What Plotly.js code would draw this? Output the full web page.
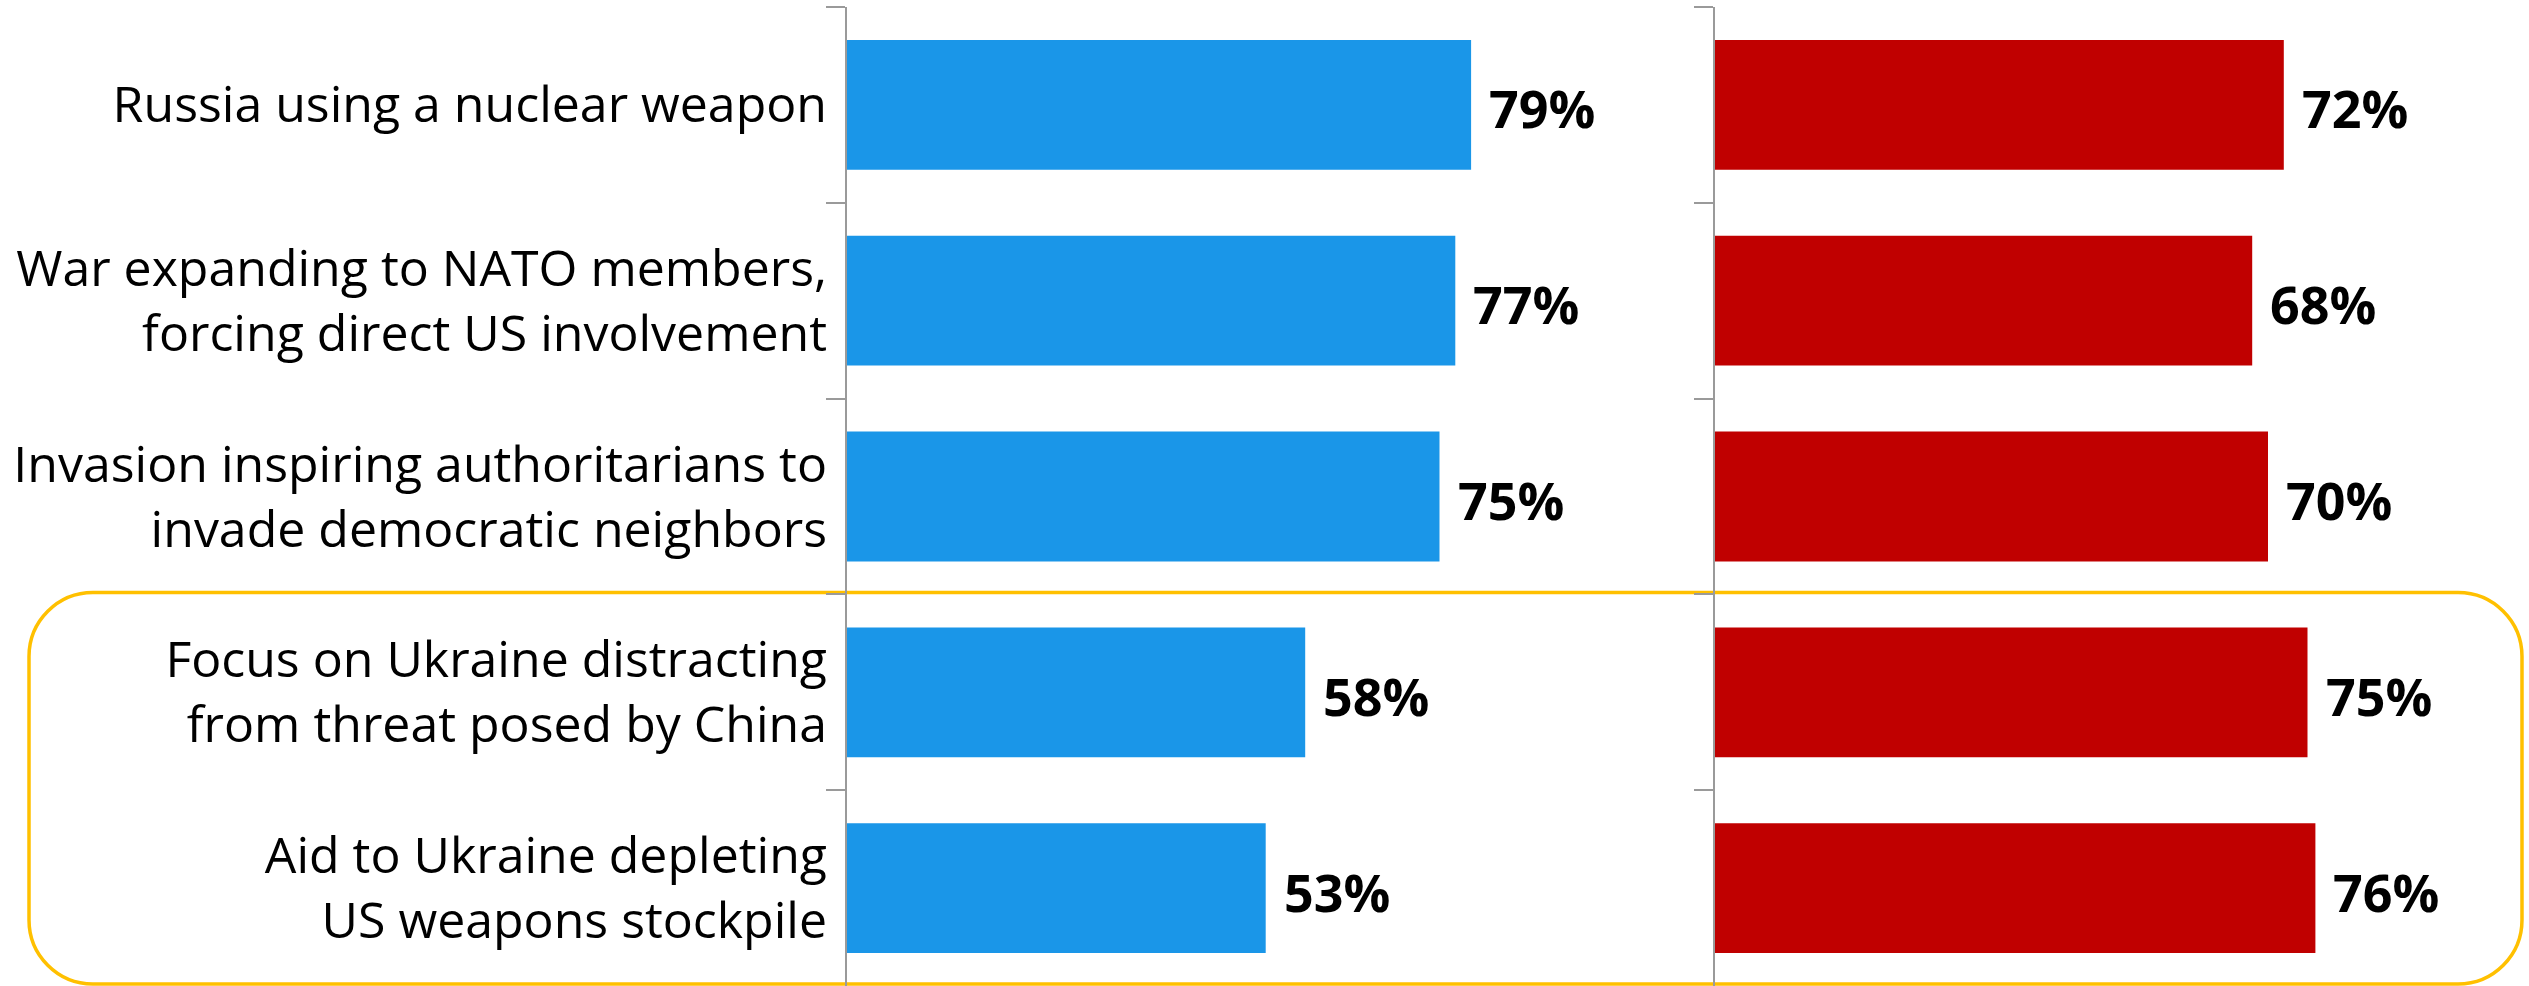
<!DOCTYPE html>
<html>
<head>
<meta charset="utf-8">
<script src="https://cdn.plot.ly/plotly-3.0.1.min.js"></script>
<style>
  html, body { margin: 0; padding: 0; background: #ffffff; }
  #chart { width: 2529px; height: 986px; }
</style>
</head>
<body>
<div id="chart"></div>
<script>
// ---- Data ----
const categories = [
  "Russia using a nuclear weapon",
  "War expanding to NATO members,<br>forcing direct US involvement",
  "Invasion inspiring authoritarians to<br>invade democratic neighbors",
  "Focus on Ukraine distracting<br>from threat posed by China",
  "Aid to Ukraine depleting<br>US weapons stockpile"
];
const leftValues = [79, 77, 75, 58, 53];
const rightValues = [72, 68, 70, 75, 76];
const highlightedCategories = [3, 4]; // indices of the highlighted rows

// ---- Layout geometry ----
const W = 2529, H = 986;
const M = { l: 0, r: 0, t: 7, b: 0 };
const plotW = W - M.l - M.r, plotH = H - M.t - M.b;
const leftDomain = [847 / W, 1637 / W];
const rightDomain = [1715 / W, 2505 / W];

const BLUE = "#1A96E8";
const RED = "#C00000";
const AXIS_GRAY = "#9A9A9A";
const FONT = "Open Sans, Noto Sans, DejaVu Sans, sans-serif";

const traces = [
  {
    type: "bar", orientation: "h",
    x: leftValues, y: categories,
    xaxis: "x", yaxis: "y",
    marker: { color: BLUE, line: { width: 0 } },
    hoverinfo: "skip", showlegend: false
  },
  {
    type: "bar", orientation: "h",
    x: rightValues, y: categories,
    xaxis: "x2", yaxis: "y2",
    marker: { color: RED, line: { width: 0 } },
    hoverinfo: "skip", showlegend: false
  }
];

function labelAnnotations(values, xref, yref) {
  return values.map((v, i) => ({
    x: v, y: categories[i], xref: xref, yref: yref,
    text: "<b>" + v + "%</b>",
    xanchor: "left", yanchor: "middle",
    xshift: 16, yshift: -3,
    showarrow: false,
    font: { family: FONT, size: 52, color: "#000000" }
  }));
}

// Rounded highlight rectangle (pixel geometry -> paper coordinates)
function px2x(px) { return (px - M.l) / plotW; }
function px2y(py) { return 1 - (py - M.t) / plotH; }
function roundedRectPath(x0, y0, x1, y1, r) {
  const k = 0.5523 * r;
  const P = (x, y) => px2x(x).toFixed(5) + "," + px2y(y).toFixed(5);
  return [
    "M" + P(x0 + r, y0),
    "L" + P(x1 - r, y0),
    "C" + P(x1 - r + k, y0) + " " + P(x1, y0 + r - k) + " " + P(x1, y0 + r),
    "L" + P(x1, y1 - r),
    "C" + P(x1, y1 - r + k) + " " + P(x1 - r + k, y1) + " " + P(x1 - r, y1),
    "L" + P(x0 + r, y1),
    "C" + P(x0 + r - k, y1) + " " + P(x0, y1 - r + k) + " " + P(x0, y1 - r),
    "L" + P(x0, y0 + r),
    "C" + P(x0, y0 + r - k) + " " + P(x0 + r - k, y0) + " " + P(x0 + r, y0),
    "Z"
  ].join(" ");
}

const rowH = plotH / categories.length;
const hlTop = M.t + highlightedCategories[0] * rowH - 2;
const hlBottom = 984;

const yAxisCommon = {
  type: "category",
  categoryorder: "array",
  categoryarray: categories,
  range: [categories.length - 0.5, -0.5],
  showgrid: false, zeroline: false,
  showline: true, linecolor: AXIS_GRAY, linewidth: 2,
  ticks: "outside", tickson: "boundaries",
  ticklen: 19, tickwidth: 2, tickcolor: AXIS_GRAY,
  fixedrange: true
};

const layout = {
  width: W, height: H,
  margin: M,
  paper_bgcolor: "#ffffff",
  plot_bgcolor: "rgba(0,0,0,0)",
  bargap: 0.337,
  showlegend: false,
  font: { family: FONT, color: "#000000" },
  xaxis: {
    domain: leftDomain, range: [0, 100], anchor: "y",
    visible: false, fixedrange: true
  },
  xaxis2: {
    domain: rightDomain, range: [0, 100], anchor: "y2",
    visible: false, fixedrange: true
  },
  yaxis: Object.assign({}, yAxisCommon, {
    anchor: "x",
    showticklabels: true,
    tickfont: { family: FONT, size: 50, color: "#000000" },
    ticklabelstandoff: 8
  }),
  yaxis2: Object.assign({}, yAxisCommon, {
    anchor: "x2",
    showticklabels: false
  }),
  annotations: labelAnnotations(leftValues, "x", "y")
    .concat(labelAnnotations(rightValues, "x2", "y2")),
  shapes: [
    {
      type: "path", xref: "paper", yref: "paper",
      path: roundedRectPath(29, hlTop, 2522, hlBottom, 64),
      line: { color: "#FFC000", width: 3.5 },
      fillcolor: "rgba(0,0,0,0)",
      layer: "below"
    }
  ]
};

Plotly.newPlot("chart", traces, layout, { displayModeBar: false, staticPlot: true });
</script>
</body>
</html>
